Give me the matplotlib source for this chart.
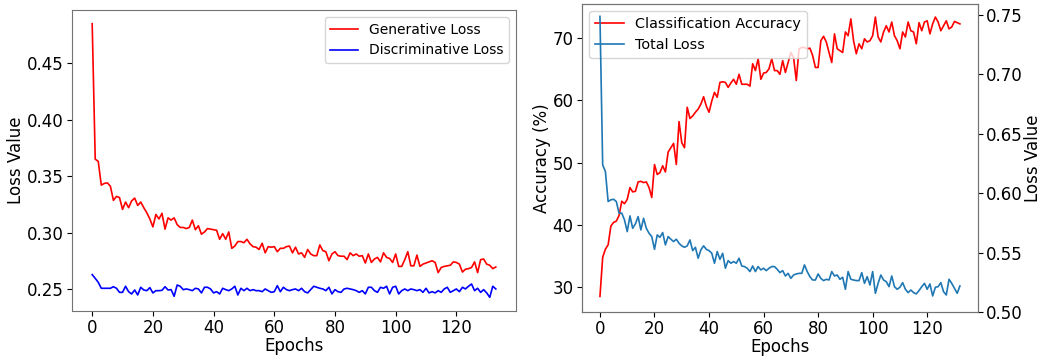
import numpy as np
from matplotlib import pyplot as plt

# left panel: GAN losses per epoch (0..133)
genLoss = [0.485, 0.365, 0.363, 0.342, 0.3435, 0.344, 0.341, 0.3285, 0.332, 0.331,
           0.3205, 0.327, 0.322, 0.328, 0.3305, 0.324, 0.327, 0.322, 0.3175, 0.312,
           0.305, 0.316, 0.312, 0.317, 0.303, 0.313, 0.311, 0.313, 0.307, 0.3045,
           0.3045, 0.3035, 0.3045, 0.311, 0.3025, 0.306, 0.2985, 0.3005, 0.3035, 0.303,
           0.3025, 0.302, 0.294, 0.299, 0.294, 0.3005, 0.286, 0.288, 0.292, 0.292,
           0.291, 0.294, 0.290, 0.2875, 0.287, 0.285, 0.2905, 0.282, 0.2875, 0.287,
           0.2875, 0.283, 0.286, 0.286, 0.2875, 0.288, 0.282, 0.287, 0.281, 0.282,
           0.278, 0.285, 0.281, 0.2795, 0.2795, 0.289, 0.284, 0.283, 0.275, 0.281,
           0.283, 0.2795, 0.279, 0.279, 0.276, 0.282, 0.2795, 0.281, 0.279, 0.2795,
           0.273, 0.281, 0.2735, 0.2765, 0.278, 0.274, 0.282, 0.278, 0.277, 0.2735,
           0.281, 0.270, 0.270, 0.276, 0.283, 0.2705, 0.2705, 0.280, 0.270, 0.272,
           0.273, 0.274, 0.275, 0.2735, 0.2645, 0.269, 0.270, 0.2705, 0.271, 0.274,
           0.2735, 0.272, 0.265, 0.2675, 0.268, 0.269, 0.274, 0.2645, 0.276, 0.2765,
           0.272, 0.271, 0.268, 0.2695]

discLoss = [0.2627, 0.2594, 0.2559, 0.2506, 0.2506, 0.2506, 0.2506, 0.252, 0.2506, 0.247,
            0.247, 0.2524, 0.2476, 0.2456, 0.2491, 0.2447, 0.2515, 0.2491, 0.2485, 0.2512,
            0.2465, 0.2485, 0.2485, 0.2488, 0.252, 0.2491, 0.2494, 0.2435, 0.2535, 0.2524,
            0.2494, 0.25, 0.2494, 0.2485, 0.2506, 0.25, 0.2465, 0.2515, 0.2515, 0.25,
            0.2465, 0.2476, 0.2456, 0.2506, 0.2494, 0.2485, 0.25, 0.2524, 0.2447, 0.2506,
            0.2485, 0.2506, 0.2485, 0.2494, 0.2485, 0.2485, 0.2476, 0.25, 0.2485, 0.247,
            0.2476, 0.2529, 0.2476, 0.2515, 0.2494, 0.2485, 0.2494, 0.25, 0.2485, 0.2506,
            0.2476, 0.2465, 0.2494, 0.2524, 0.2515, 0.2506, 0.25, 0.2485, 0.2515, 0.2456,
            0.2494, 0.2476, 0.247, 0.25, 0.2506, 0.25, 0.2494, 0.2485, 0.247, 0.2485,
            0.2456, 0.2515, 0.2515, 0.2485, 0.247, 0.2515, 0.2506, 0.2524, 0.2456, 0.2515,
            0.2524, 0.2456, 0.2485, 0.25, 0.2485, 0.25, 0.2494, 0.2485, 0.2494, 0.247,
            0.2506, 0.2465, 0.2476, 0.2465, 0.2485, 0.247, 0.25, 0.2515, 0.247, 0.2485,
            0.25, 0.2476, 0.2515, 0.25, 0.2524, 0.2544, 0.2485, 0.2506, 0.247, 0.2494,
            0.2465, 0.2426, 0.2524, 0.25]

# right panel: accuracy (%) and total loss per epoch (0..132)
accuracy = [28.5, 34.8, 36.1, 36.8, 39.8, 40.4, 40.6, 41.5, 43.8, 43.4,
            44.1, 46.0, 45.3, 45.4, 46.9, 47.0, 46.8, 46.9, 46.0, 44.4,
            49.7, 48.1, 48.4, 49.5, 48.5, 51.7, 52.4, 53.1, 49.7, 56.6,
            53.2, 52.4, 58.9, 57.1, 57.5, 58.1, 58.6, 59.4, 60.6, 59.1,
            58.1, 59.9, 61.3, 60.5, 62.9, 63.0, 62.9, 62.1, 62.8, 63.4,
            62.6, 64.2, 62.6, 62.6, 62.6, 62.3, 65.9, 64.8, 66.7, 63.4,
            64.4, 64.5, 65.1, 66.7, 64.8, 64.8, 64.2, 66.4, 64.5, 66.1,
            67.7, 66.9, 63.2, 68.3, 68.5, 68.5, 68.3, 68.4, 67.2, 65.3,
            65.3, 69.6, 70.3, 69.4, 67.7, 66.1, 70.7, 68.3, 68.0, 67.7,
            71.0, 70.4, 73.1, 69.6, 67.5, 69.1, 68.3, 69.9, 69.4, 69.6,
            70.4, 73.4, 70.2, 69.4, 71.0, 72.0, 71.0, 72.6, 70.4, 69.6,
            68.3, 71.0, 70.2, 72.6, 71.2, 71.0, 69.1, 72.5, 71.2, 72.6,
            72.8, 70.7, 72.3, 73.4, 72.6, 71.2, 72.0, 72.8, 71.5, 71.8,
            72.7, 72.5, 72.3]

totalLoss = [0.7486, 0.6237, 0.6181, 0.5929, 0.5943, 0.5948, 0.5929, 0.5831, 0.5831, 0.5774,
             0.5676, 0.5808, 0.5704, 0.5741, 0.5802, 0.569, 0.5788, 0.5704, 0.5662, 0.5634,
             0.5527, 0.5648, 0.5628, 0.5668, 0.5564, 0.5634, 0.5612, 0.5592, 0.5612, 0.5578,
             0.5556, 0.5544, 0.5556, 0.5606, 0.5516, 0.5544, 0.5452, 0.5522, 0.5556, 0.5527,
             0.5516, 0.5494, 0.541, 0.5508, 0.5443, 0.5494, 0.5368, 0.5432, 0.541, 0.5424,
             0.541, 0.5452, 0.5387, 0.5382, 0.5368, 0.534, 0.5387, 0.534, 0.5382, 0.5354,
             0.5368, 0.5348, 0.5368, 0.5382, 0.5382, 0.5359, 0.5331, 0.5348, 0.5303, 0.5325,
             0.5283, 0.5311, 0.532, 0.5325, 0.5325, 0.5396, 0.534, 0.5297, 0.5269, 0.5269,
             0.532, 0.5283, 0.5264, 0.5275, 0.5269, 0.534, 0.5303, 0.5311, 0.5275, 0.5292,
             0.5191, 0.534, 0.5275, 0.5269, 0.5264, 0.5264, 0.5331, 0.5241, 0.5297, 0.5227,
             0.534, 0.5157, 0.5241, 0.5311, 0.5269, 0.5255, 0.5213, 0.5303, 0.5213, 0.5191,
             0.5208, 0.5247, 0.5191, 0.5163, 0.5185, 0.5163, 0.5152, 0.518, 0.5213, 0.5241,
             0.5191, 0.5236, 0.5135, 0.5208, 0.5213, 0.5247, 0.5171, 0.5143, 0.5275, 0.5241,
             0.5199, 0.5157, 0.5219]

epochsLeft = np.arange(len(genLoss))
epochsRight = np.arange(len(accuracy))

fs = 12
plt.rcParams['font.size'] = fs
plt.rcParams['xtick.major.pad'] = 2.5
plt.rcParams['ytick.major.pad'] = 2.5

fig = plt.figure(figsize=(10.42, 3.56), dpi=100)
ax1 = fig.add_axes([0.0691, 0.1264, 0.4261, 0.8455])
ax2 = fig.add_axes([0.5585, 0.1236, 0.3800, 0.8652])
ax3 = ax2.twinx()

# left: generative vs discriminative loss
ax1.plot(epochsLeft, genLoss, color="red", linewidth=1.2, label="Generative Loss")
ax1.plot(epochsLeft, discLoss, color="blue", linewidth=1.2, label="Discriminative Loss")
ax1.set_xlabel("Epochs", fontsize=fs, labelpad=0)
ax1.set_ylabel("Loss Value", fontsize=fs, labelpad=1)
ax1.set_xticks([0, 20, 40, 60, 80, 100, 120])
ax1.legend(loc="upper right", fontsize=10)

# right: accuracy (left axis) and total loss (right axis)
l1, = ax2.plot(epochsRight, accuracy, color="red", linewidth=1.2, label="Classification Accuracy")
l2, = ax3.plot(epochsRight, totalLoss, color="#1f77b4", linewidth=1.2, label="Total Loss")
ax2.set_xlabel("Epochs", fontsize=fs, labelpad=0)
ax2.set_ylabel("Accuracy (%)", fontsize=fs, labelpad=1)
ax3.set_ylabel("Loss Value", fontsize=fs, labelpad=1)
ax2.set_xticks([0, 20, 40, 60, 80, 100, 120])
ax2.set_ylim(26.0, 75.5)
ax3.set_ylim(0.50, 0.759)
ax2.legend([l1, l2], [l1.get_label(), l2.get_label()], loc="upper left", fontsize=10.4)

for ax in (ax1, ax2, ax3):
    for s in ax.spines.values():
        s.set_color("0.45")

plt.savefig("out.png", dpi=100)
